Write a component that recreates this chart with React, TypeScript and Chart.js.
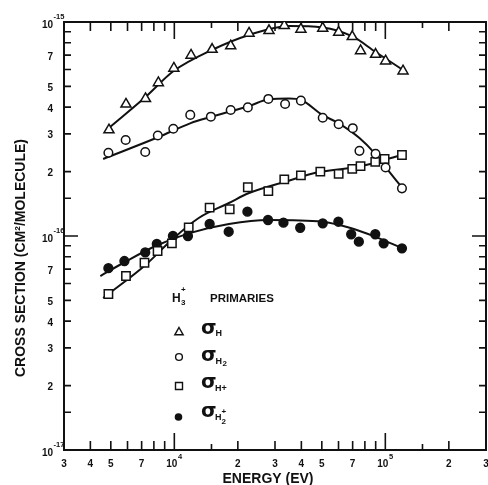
import React, { useEffect, useRef } from "react";
import { Chart, registerables } from "chart.js";

Chart.register(...registerables);

// Energy in eV; cross sections in units of 1e-16 cm^2/molecule
const sigmaH_E = [4900, 5900, 7300, 8400, 9950, 12000, 15100, 18500, 22600, 28100, 33200, 39800, 50500, 60100, 69700, 76300, 89900, 100300, 121300];
const sigmaH_V = [3.13, 4.13, 4.38, 5.2, 6.08, 6.99, 7.45, 7.73, 8.86, 9.11, 9.61, 9.25, 9.35, 8.95, 8.54, 7.34, 7.06, 6.57, 5.9];

const sigmaH2_E = [4870, 5880, 7280, 8350, 9890, 11900, 14900, 18500, 22300, 27900, 33500, 39800, 50500, 60100, 70100, 75400, 89900, 100300, 119900];
const sigmaH2_V = [2.45, 2.81, 2.47, 2.95, 3.17, 3.68, 3.61, 3.88, 3.99, 4.37, 4.14, 4.29, 3.57, 3.33, 3.19, 2.5, 2.42, 2.09, 1.67];

const sigmaHp_E = [4870, 5900, 7220, 8330, 9740, 11700, 14700, 18300, 22300, 27900, 33200, 39800, 49200, 60100, 69700, 76300, 89600, 99200, 119900];
const sigmaHp_V = [0.536, 0.65, 0.75, 0.851, 0.924, 1.098, 1.356, 1.333, 1.69, 1.62, 1.84, 1.92, 2.0, 1.95, 2.06, 2.12, 2.22, 2.29, 2.39];

const sigmaH2p_E = [4870, 5800, 7280, 8260, 9850, 11600, 14700, 18100, 22200, 27800, 32900, 39500, 50500, 59900, 68900, 74900, 89600, 98200, 119900];
const sigmaH2p_V = [0.707, 0.764, 0.839, 0.918, 1.0, 1.0, 1.138, 1.047, 1.299, 1.188, 1.154, 1.093, 1.146, 1.166, 1.019, 0.941, 1.019, 0.924, 0.876];

// Hand-drawn fitted curves
const fitH_E = [4900, 7300, 9920, 15050, 22600, 35000, 50300, 69900, 89900, 123600];
const fitH_V = [3.2, 4.46, 5.9, 7.4, 8.7, 9.58, 9.43, 8.56, 7.24, 5.9];

const fitH2_E = [4600, 8420, 11960, 14900, 22600, 28100, 35000, 39900, 50300, 59900, 75400, 88900, 100300, 119600];
const fitH2_V = [2.29, 2.9, 3.37, 3.6, 4.05, 4.35, 4.39, 4.32, 3.68, 3.37, 2.87, 2.44, 2.1, 1.69];

const fitHp_E = [4600, 7300, 9710, 13050, 18140, 22600, 33900, 48650, 75400, 90900, 100300, 119600];
const fitHp_V = [0.513, 0.732, 0.958, 1.214, 1.426, 1.588, 1.8, 1.99, 2.11, 2.21, 2.28, 2.39];

const fitH2p_E = [4460, 5860, 8150, 11700, 18140, 28100, 50300, 69100, 90900, 120900];
const fitH2p_V = [0.65, 0.758, 0.898, 1.029, 1.138, 1.188, 1.166, 1.086, 0.986, 0.876];

// Axis ticks
const xMin = 3000;
const xMax = 300000;
const yMin = 0.1;
const yMax = 10;
const xLabelVals = [3000, 4000, 5000, 7000, 10000, 20000, 30000, 40000, 50000, 70000, 100000, 200000, 300000];
const xLabelText = ["3", "4", "5", "7", "10", "2", "3", "4", "5", "7", "10", "2", "3"];
const xLabelExp = ["", "", "", "", "4", "", "", "", "", "", "5", "", ""];
const xMinorTicks = [4000, 5000, 6000, 7000, 8000, 9000, 20000, 30000, 40000, 50000, 60000, 70000, 80000, 90000, 200000];
const xHalfTicks = [15000, 150000];
const xDecadeTicks = [10000, 100000];

const yLabelVals = [10, 7, 5, 4, 3, 2, 1, 0.7, 0.5, 0.4, 0.3, 0.2, 0.1];
const yLabelText = ["10", "7", "5", "4", "3", "2", "10", "7", "5", "4", "3", "2", "10"];
const yLabelExp = ["-15", "", "", "", "", "", "-16", "", "", "", "", "", "-17"];
const yMinorTicks = [9, 8, 7, 6, 5, 4, 3, 2, 1.5, 0.9, 0.8, 0.7, 0.6, 0.5, 0.4, 0.3, 0.2, 0.15];
const yDecadeTicks = [1];

const xTitle = "ENERGY (EV)";
const yTitle = "CROSS SECTION (CM\u00B2/MOLECULE)";
const legendHeader = "PRIMARIES";

const INK = "#111";
const FONT = '"Liberation Sans", Arial, sans-serif';

const pts = (xs: number[], ys: number[]) => xs.map((x, i) => ({ x, y: ys[i] }));

const framePlugin = {
  id: "frame",
  beforeDatasetsDraw(chart: any) {
    const { ctx, chartArea: a, scales } = chart;
    const xs = scales.x;
    const ys = scales.y;
    ctx.save();
    ctx.strokeStyle = INK;
    ctx.lineWidth = 2;
    ctx.strokeRect(a.left, a.top, a.right - a.left, a.bottom - a.top);
    ctx.lineWidth = 1.6;
    const tickX = (vals: number[], len: number) => {
      vals.forEach((v) => {
        const px = xs.getPixelForValue(v);
        ctx.beginPath();
        ctx.moveTo(px, a.bottom);
        ctx.lineTo(px, a.bottom - len);
        ctx.moveTo(px, a.top);
        ctx.lineTo(px, a.top + len);
        ctx.stroke();
      });
    };
    const tickY = (vals: number[], len: number) => {
      vals.forEach((v) => {
        const py = ys.getPixelForValue(v);
        ctx.beginPath();
        ctx.moveTo(a.left, py);
        ctx.lineTo(a.left + len, py);
        ctx.moveTo(a.right, py);
        ctx.lineTo(a.right - len, py);
        ctx.stroke();
      });
    };
    tickX(xMinorTicks, 9);
    tickX(xHalfTicks, 6);
    tickX(xDecadeTicks, 17);
    tickY(yMinorTicks, 7);
    tickY(yDecadeTicks, 14);
    ctx.restore();
  },
  afterDraw(chart: any) {
    const { ctx, chartArea: a, scales } = chart;
    const xs = scales.x;
    const ys = scales.y;
    ctx.save();
    ctx.fillStyle = INK;
    // x tick labels
    xLabelVals.forEach((v, i) => {
      const px = xs.getPixelForValue(v);
      ctx.font = `bold 10px ${FONT}`;
      ctx.textBaseline = "alphabetic";
      if (xLabelExp[i]) {
        ctx.textAlign = "center";
        const cx = px - 2.5;
        ctx.fillText(xLabelText[i], cx, a.bottom + 17);
        const w = ctx.measureText(xLabelText[i]).width;
        ctx.font = `bold 7.5px ${FONT}`;
        ctx.textAlign = "left";
        ctx.fillText(xLabelExp[i], cx + w / 2 + 0.5, a.bottom + 9);
      } else {
        ctx.textAlign = "center";
        ctx.fillText(xLabelText[i], px, a.bottom + 17);
      }
    });
    // y tick labels
    yLabelVals.forEach((v, i) => {
      const py = ys.getPixelForValue(v);
      ctx.font = `bold 10px ${FONT}`;
      ctx.textAlign = "right";
      ctx.textBaseline = "alphabetic";
      if (yLabelExp[i]) {
        ctx.fillText(yLabelText[i], 53, py + 6);
        ctx.font = `bold 7.5px ${FONT}`;
        ctx.textAlign = "left";
        ctx.fillText(yLabelExp[i], 53.5, py - 3);
      } else {
        ctx.fillText(yLabelText[i], 53, py + 4.5);
      }
    });
    // axis titles
    ctx.font = `bold 14px ${FONT}`;
    ctx.textAlign = "center";
    ctx.textBaseline = "alphabetic";
    ctx.fillText(xTitle, 268, 483);
    ctx.save();
    ctx.translate(25, 258);
    ctx.rotate(-Math.PI / 2);
    ctx.fillText(yTitle, 0, 0);
    ctx.restore();

    // legend
    ctx.textAlign = "left";
    ctx.font = `bold 12px ${FONT}`;
    ctx.fillText("H", 172, 301.5);
    ctx.font = `bold 8px ${FONT}`;
    ctx.fillText("+", 181, 291.5);
    ctx.fillText("3", 181, 304.5);
    ctx.font = `bold 11.5px ${FONT}`;
    ctx.fillText(legendHeader, 210, 301.5);

    ctx.strokeStyle = INK;
    ctx.lineWidth = 1.4;
    // triangle
    ctx.fillStyle = "#fff";
    ctx.beginPath();
    ctx.moveTo(179, 327.5);
    ctx.lineTo(183.2, 334.8);
    ctx.lineTo(174.8, 334.8);
    ctx.closePath();
    ctx.fill();
    ctx.stroke();
    // open circle
    ctx.beginPath();
    ctx.arc(179, 357, 3.4, 0, Math.PI * 2);
    ctx.fill();
    ctx.stroke();
    // square
    ctx.beginPath();
    ctx.rect(175.5, 382.5, 7, 7);
    ctx.fill();
    ctx.stroke();
    // filled circle
    ctx.fillStyle = INK;
    ctx.beginPath();
    ctx.arc(178.5, 417, 3.8, 0, Math.PI * 2);
    ctx.fill();

    const sigma = (x: number, base: number) => {
      ctx.font = `bold 20px "DejaVu Sans", sans-serif`;
      ctx.fillText("\u03C3", x, base);
    };
    ctx.fillStyle = INK;
    sigma(201, 334);
    ctx.font = `bold 9px ${FONT}`;
    ctx.fillText("H", 215.5, 336);

    sigma(201, 361);
    ctx.font = `bold 9px ${FONT}`;
    ctx.fillText("H", 215.5, 363.5);
    ctx.font = `bold 8px ${FONT}`;
    ctx.fillText("2", 222.5, 366);

    sigma(201, 388);
    ctx.font = `bold 9px ${FONT}`;
    ctx.fillText("H+", 215, 390.5);

    sigma(201, 417);
    ctx.font = `bold 9px ${FONT}`;
    ctx.fillText("H", 215, 420);
    ctx.font = `bold 8px ${FONT}`;
    ctx.fillText("+", 221.5, 413.5);
    ctx.fillText("2", 221.5, 424);

    ctx.restore();
  },
};

export default function App() {
  const ref = useRef<HTMLCanvasElement | null>(null);
  useEffect(() => {
    if (!ref.current) return;
    const markerBase = {
      showLine: false,
      borderColor: INK,
      pointBorderColor: INK,
      pointBorderWidth: 1.5,
    };
    const curveBase = {
      showLine: true,
      pointRadius: 0,
      borderColor: INK,
      borderWidth: 2,
      cubicInterpolationMode: "monotone" as const,
      fill: false,
    };
    const chart = new Chart(ref.current, {
      type: "scatter",
      data: {
        datasets: [
          { ...markerBase, label: "σH", data: pts(sigmaH_E, sigmaH_V), pointStyle: "triangle", pointRadius: 5.8, pointBackgroundColor: "#fff" },
          { ...markerBase, label: "σH2", data: pts(sigmaH2_E, sigmaH2_V), pointStyle: "circle", pointRadius: 4.3, pointBackgroundColor: "#fff" },
          { ...markerBase, label: "σH+", data: pts(sigmaHp_E, sigmaHp_V), pointStyle: "rect", pointRadius: 5.9, pointBackgroundColor: "#fff" },
          { ...markerBase, label: "σH2+", data: pts(sigmaH2p_E, sigmaH2p_V), pointStyle: "circle", pointRadius: 4.4, pointBackgroundColor: INK },
          { ...curveBase, label: "fitH", data: pts(fitH_E, fitH_V) },
          { ...curveBase, label: "fitH2", data: pts(fitH2_E, fitH2_V) },
          { ...curveBase, label: "fitHp", data: pts(fitHp_E, fitHp_V) },
          { ...curveBase, label: "fitH2p", data: pts(fitH2p_E, fitH2p_V) },
        ],
      },
      options: {
        responsive: false,
        maintainAspectRatio: false,
        devicePixelRatio: 1,
        animation: false,
        events: [],
        layout: { autoPadding: false, padding: { top: 22, right: 2, left: 0, bottom: 0 } },
        plugins: { legend: { display: false }, tooltip: { enabled: false } },
        scales: {
          x: {
            type: "logarithmic",
            min: xMin,
            max: xMax,
            grid: { display: false },
            border: { display: false },
            ticks: { display: false },
            afterFit: (s: any) => {
              s.height = 35;
              s.paddingLeft = 0;
              s.paddingRight = 0;
            },
          },
          y: {
            type: "logarithmic",
            min: yMin,
            max: yMax,
            grid: { display: false },
            border: { display: false },
            ticks: { display: false },
            afterFit: (s: any) => {
              s.width = 64;
              s.paddingTop = 0;
              s.paddingBottom = 0;
            },
          },
        },
      },
      plugins: [framePlugin],
    });
    return () => chart.destroy();
  }, []);
  return (
    <div style={{ position: "absolute", left: 0, top: 0, width: 488, height: 485, background: "#fff" }}>
      <canvas ref={ref} width={488} height={485} style={{ display: "block" }} />
    </div>
  );
}
